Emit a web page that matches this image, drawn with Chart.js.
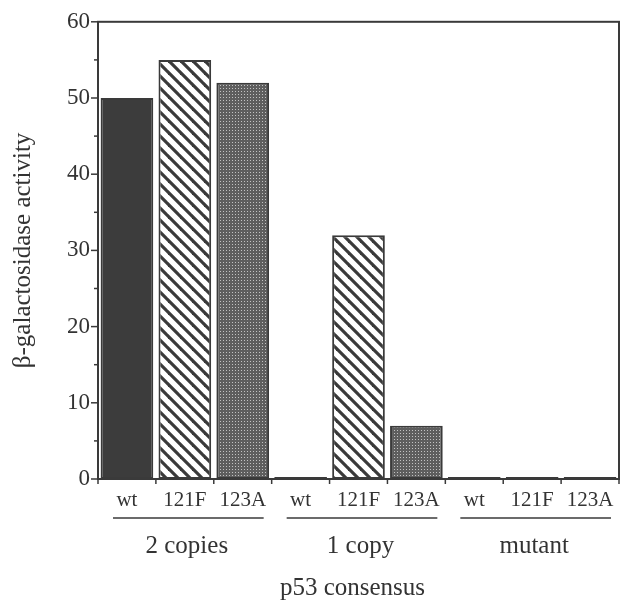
<!DOCTYPE html>
<html><head><meta charset="utf-8">
<script src="https://cdn.jsdelivr.net/npm/chart.js@4/dist/chart.umd.min.js"></script>
<style>html,body{margin:0;padding:0;background:#fff;}#wrap{width:628px;height:602px;}</style>
</head><body><div id="wrap"><canvas id="c" width="628" height="602"></canvas></div>
<script>
// ---- data ----
const categories = ['wt','121F','123A','wt','121F','123A','wt','121F','123A'];
const groupLabels = ['2 copies','1 copy','mutant'];
const groupSize = 3;
const activity = [50, 55, 52, 0, 32, 7, 0, 0, 0];
const yAxisTitle = 'β-galactosidase activity';
const xAxisTitle = 'p53 consensus';
const yMin = 0, yMax = 60, yMajorStep = 10, yMinorStep = 5;

// ---- styles ----
const INK = '#3a3a3a';
const TEXT = '#333';
const SERIF = '"Liberation Serif", "Times New Roman", serif';

function makeHatch() {
  const s = 12, cv = document.createElement('canvas');
  cv.width = s; cv.height = s;
  const g = cv.getContext('2d');
  g.fillStyle = '#fff'; g.fillRect(0, 0, s, s);
  g.strokeStyle = INK; g.lineWidth = 3.2;
  for (const k of [-s, 0, s]) { g.beginPath(); g.moveTo(k - 3, -3); g.lineTo(k + s + 3, s + 3); g.stroke(); }
  return g.createPattern(cv, 'repeat');
}
function makeStipple() {
  const cv = document.createElement('canvas');
  cv.width = 3; cv.height = 3;
  const g = cv.getContext('2d');
  g.fillStyle = '#5e5e5e'; g.fillRect(0, 0, 3, 3);
  g.fillStyle = '#c2c2c2'; g.fillRect(1, 1, 1, 1);
  return g.createPattern(cv, 'repeat');
}
const fills = ['#3c3c3c', makeHatch(), makeStipple()];
const barFills = categories.map((_, i) => fills[i % groupSize]);

const framePlugin = {
  id: 'frame',
  afterDatasetsDraw(chart) {
    const { ctx, chartArea: a, scales: { x, y } } = chart;
    ctx.save();
    ctx.strokeStyle = INK; ctx.lineWidth = 2; ctx.lineCap = 'square';
    ctx.strokeRect(a.left, a.top, a.right - a.left, a.bottom - a.top);
    // y ticks
    ctx.lineWidth = 1.5; ctx.lineCap = 'butt';
    for (let v = yMin; v <= yMax; v += yMinorStep) {
      const py = y.getPixelForValue(v);
      const len = (v % yMajorStep === 0) ? 7 : 4;
      ctx.beginPath(); ctx.moveTo(a.left - len, py); ctx.lineTo(a.left, py); ctx.stroke();
    }
    // x ticks at category boundaries
    const half = (x.getPixelForValue(1) - x.getPixelForValue(0)) / 2;
    for (let i = 0; i <= categories.length; i++) {
      const px = x.getPixelForValue(0) - half + i * 2 * half;
      ctx.beginPath(); ctx.moveTo(px, a.bottom); ctx.lineTo(px, a.bottom + 5); ctx.stroke();
    }
    // group underlines and labels
    ctx.fillStyle = TEXT; ctx.textAlign = 'center'; ctx.textBaseline = 'alphabetic';
    ctx.font = '25px ' + SERIF;
    groupLabels.forEach((lab, gi) => {
      const l = x.getPixelForValue(gi * groupSize) - half;
      const r = x.getPixelForValue(gi * groupSize + groupSize - 1) + half;
      ctx.beginPath(); ctx.moveTo(l + 15, 518); ctx.lineTo(r - 8, 518); ctx.stroke();
      ctx.fillText(lab, (l + r) / 2 + 2, 553);
    });
    ctx.fillText(xAxisTitle, (a.left + a.right) / 2 - 6, 595);
    ctx.restore();
  }
};

new Chart(document.getElementById('c'), {
  type: 'bar',
  data: {
    labels: categories,
    datasets: [{
      data: activity,
      backgroundColor: barFills,
      borderColor: INK,
      borderWidth: 2,
      borderSkipped: false,
      minBarLength: 2,
      barPercentage: 0.91,
      categoryPercentage: 1
    }]
  },
  options: {
    responsive: false,
    animation: false,
    devicePixelRatio: 1,
    layout: { padding: { left: 0, right: 9, top: 13, bottom: 0 } },
    plugins: { legend: { display: false }, tooltip: { enabled: false } },
    scales: {
      x: {
        offset: true,
        grid: { display: false, drawTicks: false },
        border: { display: false },
        ticks: { color: TEXT, font: { family: SERIF, size: 21 }, padding: 9, maxRotation: 0, autoSkip: false },
        afterFit(s) { s.height = 123; }
      },
      y: {
        min: yMin, max: yMax,
        grid: { display: false, drawTicks: false },
        border: { display: false },
        ticks: {
          stepSize: yMinorStep, color: TEXT, padding: 8,
          font: { family: SERIF, size: 23 },
          callback: v => (v % yMajorStep === 0 ? String(v) : '')
        },
        title: { display: true, text: yAxisTitle, color: TEXT, font: { family: SERIF, size: 25 }, padding: { top: 8, bottom: 0 } },
        afterFit(s) { s.width = 98; }
      }
    }
  },
  plugins: [framePlugin]
});
</script>
</body></html>
